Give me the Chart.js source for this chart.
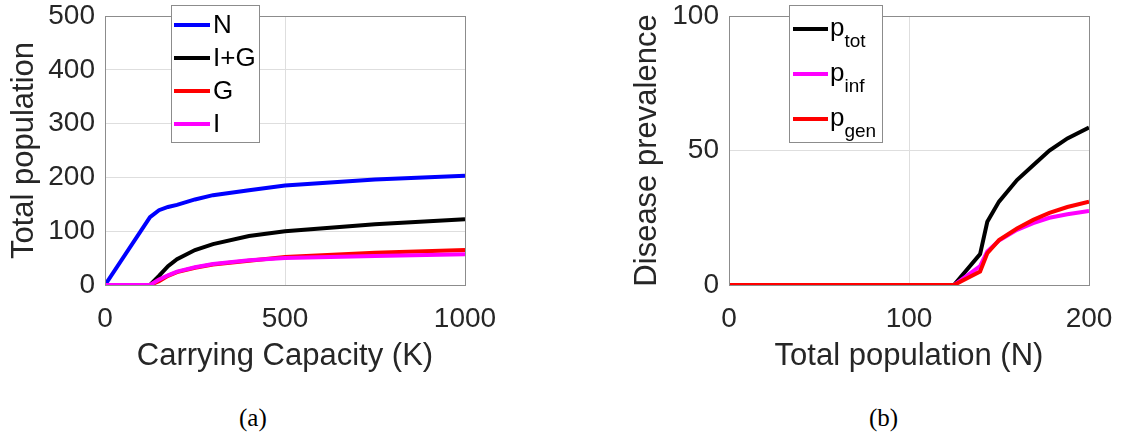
<!DOCTYPE html>
<html>
<head>
<meta charset="utf-8">
<script src="https://cdn.jsdelivr.net/npm/chart.js@4/dist/chart.umd.min.js"></script>
<style>
  html, body { margin: 0; padding: 0; background: #fff; }
  #page { position: relative; width: 1124px; height: 444px; overflow: hidden; }
  canvas { position: absolute; top: 0; }
  .cap { position: absolute; top: 404px; font-family: "Liberation Serif", "DejaVu Serif", serif; font-size: 25px; color: #000; }
</style>
</head>
<body>
<div id="page">
  <canvas id="chartA" width="562" height="380" style="left:0"></canvas>
  <canvas id="chartB" width="562" height="380" style="left:562px"></canvas>
  <div class="cap" style="left:239px">(a)</div>
  <div class="cap" style="left:869px">(b)</div>
</div>
<script>
// (a) populations against carrying capacity K
const capacityK  = [0, 125, 150, 175, 200, 250, 300, 400, 500, 750, 1000];
const totalN     = [0, 126, 139, 145, 149, 159, 167, 176, 185, 196, 203];
const infPlusGen = [0, 0, 17, 35, 48, 65, 76, 91, 100, 113, 122];
const genOnly    = [0, 0, 7, 17, 24, 32, 38, 45, 52, 60, 65];
const infOnly    = [0, 0, 10, 18, 25, 33, 39, 46, 50, 54, 57];
const labelsA    = ['N', 'I+G', 'G', 'I'];

// (b) prevalence against total population N
const popN = [0, 125, 139.5, 143.5, 150, 160, 169, 178, 188, 200];
const pTot = [0, 0, 11.5, 23.5, 31, 39, 44.5, 50, 54.5, 58.5];
const pInf = [0, 0, 7, 12.5, 16.5, 20.5, 23, 25, 26.3, 27.5];
const pGen = [0, 0, 5, 11.8, 16.7, 21, 24.2, 26.8, 29, 31];
const labelsB = ['p_tot', 'p_inf', 'p_gen'];

const xTicksA = [0, 500, 1000];
const yTicksA = [0, 100, 200, 300, 400, 500];
const xTicksB = [0, 100, 200];
const yTicksB = [0, 50, 100];

const TXT = '#262626';
const FONT = '"Liberation Sans", Arial, sans-serif';

const pts = (xs, ys) => xs.map((x, i) => ({ x: x, y: ys[i] }));

// box around the axes + legend box drawn inside the plot (matlab style)
const frameLegend = {
  id: 'frameLegend',
  afterDatasetsDraw(chart, args, opts) {
    const ctx = chart.ctx;
    const a = chart.chartArea;
    ctx.save();
    ctx.strokeStyle = '#8c8c8c';
    ctx.lineWidth = 1;
    ctx.strokeRect(Math.round(a.left) + 0.5, Math.round(a.top) + 0.5,
      Math.round(a.right - a.left), Math.round(a.bottom - a.top));

    const b = opts.box;
    ctx.fillStyle = '#fff';
    ctx.fillRect(b.x, b.y, b.w, b.h);
    ctx.strokeRect(b.x + 0.5, b.y + 0.5, b.w, b.h);

    chart.data.datasets.forEach((ds, i) => {
      const y = opts.rows[i];
      ctx.strokeStyle = ds.borderColor;
      ctx.lineWidth = 4;
      ctx.beginPath();
      ctx.moveTo(opts.lineX[0], y);
      ctx.lineTo(opts.lineX[1], y);
      ctx.stroke();

      const [main, sub] = ds.label.split('_');
      ctx.fillStyle = '#000';
      ctx.textAlign = 'left';
      if (sub) {
        ctx.textBaseline = 'alphabetic';
        ctx.font = '26px ' + FONT;
        ctx.fillText(main, opts.textX, y + 7);
        const w = ctx.measureText(main).width;
        ctx.font = '19px ' + FONT;
        ctx.fillText(sub, opts.textX + w, y + 18);
      } else {
        ctx.textBaseline = 'middle';
        ctx.font = '26px ' + FONT;
        ctx.fillText(main, opts.textX, y + 1);
      }
    });
    ctx.restore();
  }
};

function makeLine(label, color, data, order) {
  return {
    label: label,
    data: data,
    borderColor: color,
    backgroundColor: color,
    borderWidth: 4,
    pointRadius: 0,
    tension: 0,
    fill: false,
    order: order
  };
}

function axes(xMin, xMax, xStep, yMin, yMax, yStep, xTitle, yTitle, yTitlePad, yWidth) {
  const tickFont = { family: FONT, size: 28, lineHeight: 1 };
  const titleFont = { family: FONT, size: 31, lineHeight: 1.2 };
  return {
    x: {
      type: 'linear', min: xMin, max: xMax,
      ticks: { stepSize: xStep, color: TXT, font: tickFont, padding: 20, maxRotation: 0, autoSkip: false,
        callback: v => String(v) },
      grid: { color: '#dedede', drawTicks: false },
      border: { display: false },
      title: { display: true, text: xTitle, color: TXT, font: titleFont, padding: { top: 0, bottom: 5 } },
      afterFit: s => { s.height = 95; s.paddingLeft = 0; s.paddingRight = 0; }
    },
    y: {
      type: 'linear', min: yMin, max: yMax,
      ticks: { stepSize: yStep, color: TXT, font: tickFont, padding: 10, callback: v => String(v) },
      grid: { color: '#dedede', drawTicks: false },
      border: { display: false },
      title: { display: true, text: yTitle, color: TXT, font: titleFont, padding: { top: yTitlePad, bottom: 0 } },
      afterFit: s => { s.width = yWidth; s.paddingTop = 0; s.paddingBottom = 0; }
    }
  };
}

function createChartA() {
  new Chart(document.getElementById('chartA'), {
    type: 'line',
    data: {
      datasets: [
        makeLine(labelsA[0], '#0000ff', pts(capacityK, totalN), 4),
        makeLine(labelsA[1], '#000000', pts(capacityK, infPlusGen), 3),
        makeLine(labelsA[2], '#ff0000', pts(capacityK, genOnly), 2),
        makeLine(labelsA[3], '#ff00ff', pts(capacityK, infOnly), 1)
      ]
    },
    options: {
      responsive: false,
      animation: false,
      layout: { padding: { top: 16, right: 97, left: 0, bottom: 0 } },
      scales: axes(xTicksA[0], xTicksA[xTicksA.length - 1], 500,
        yTicksA[0], yTicksA[yTicksA.length - 1], 100,
        'Carrying Capacity (K)', 'Total population', 6, 105),
      plugins: {
        legend: { display: false },
        tooltip: { enabled: false },
        frameLegend: {
          box: { x: 171, y: 5, w: 88, h: 137 },
          lineX: [174, 210], textX: 213,
          rows: [25, 58, 91, 124]
        }
      }
    },
    plugins: [frameLegend]
  });
}

function createChartB() {
  new Chart(document.getElementById('chartB'), {
    type: 'line',
    data: {
      datasets: [
        makeLine(labelsB[0], '#000000', pts(popN, pTot), 3),
        makeLine(labelsB[1], '#ff00ff', pts(popN, pInf), 2),
        makeLine(labelsB[2], '#ff0000', pts(popN, pGen), 1)
      ]
    },
    options: {
      responsive: false,
      animation: false,
      layout: { padding: { top: 16, right: 35, left: 0, bottom: 0 } },
      scales: axes(xTicksB[0], xTicksB[xTicksB.length - 1], 100,
        yTicksB[0], yTicksB[yTicksB.length - 1], 50,
        'Total population (N)', 'Disease prevalence', 67, 167),
      plugins: {
        legend: { display: false },
        tooltip: { enabled: false },
        frameLegend: {
          box: { x: 227, y: 5, w: 93, h: 137 },
          lineX: [231, 266], textX: 268,
          rows: [29, 74, 119]
        }
      }
    },
    plugins: [frameLegend]
  });
}

createChartA();
createChartB();
</script>
</body>
</html>
